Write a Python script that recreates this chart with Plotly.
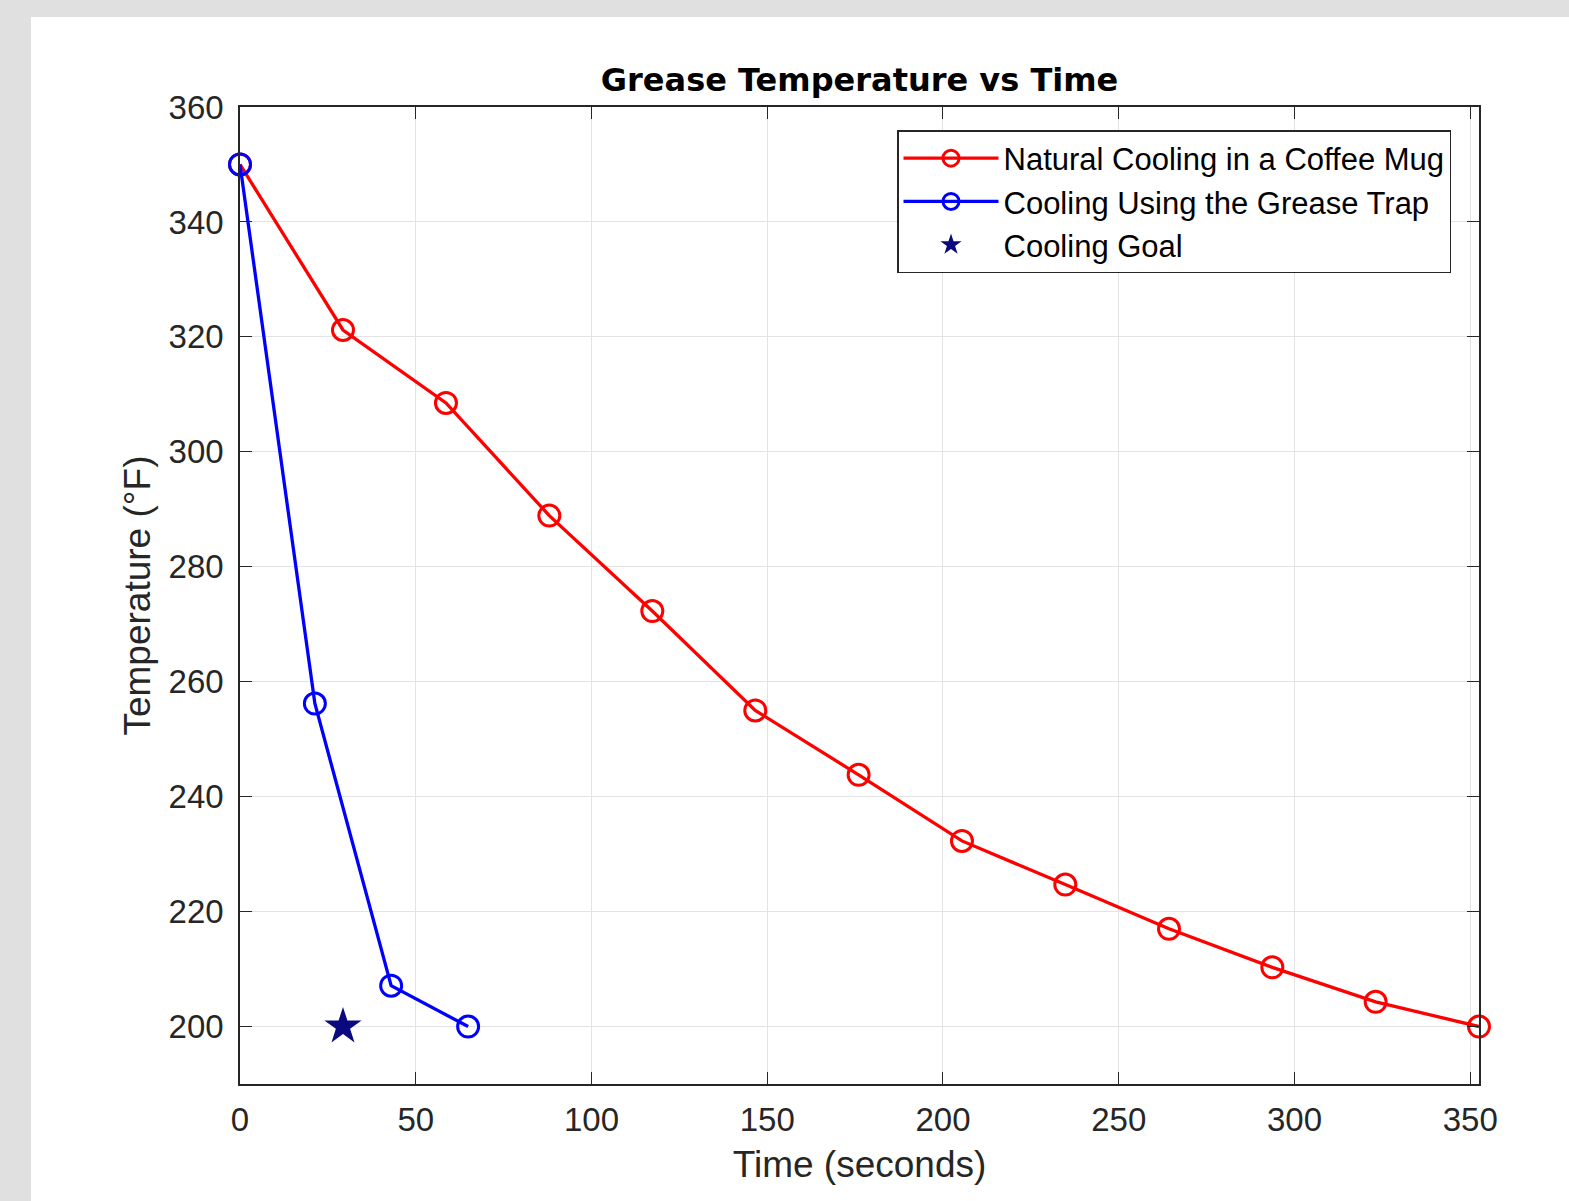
import plotly.graph_objects as go

natural_t = [0, 29.3, 58.6, 88.0, 117.3, 146.6, 176.0, 205.4, 234.8, 264.3, 293.7, 323.1, 352.5]
natural_T = [350, 321.2, 308.5, 288.9, 272.3, 255.0, 243.8, 232.3, 224.7, 217.0, 210.3, 204.3, 200]
trap_t = [0, 21.3, 43.0, 64.9]
trap_T = [350, 256.2, 207.1, 200]
goal_t = [29.3]
goal_T = [200]

FONT = "Liberation Sans, Arial, Helvetica, sans-serif"

fig = go.Figure()
fig.add_trace(go.Scatter(
    x=natural_t, y=natural_T, mode="lines+markers", name="Natural Cooling in a Coffee Mug",
    line=dict(color="#ff0000", width=3.3),
    marker=dict(symbol="circle-open", size=21, color="#ff0000", line=dict(width=3, color="#ff0000")),
    cliponaxis=False))
fig.add_trace(go.Scatter(
    x=trap_t, y=trap_T, mode="lines+markers", name="Cooling Using the Grease Trap",
    line=dict(color="#0000ff", width=3.3),
    marker=dict(symbol="circle-open", size=21, color="#0000ff", line=dict(width=3, color="#0000ff")),
    cliponaxis=False))
fig.add_trace(go.Scatter(
    x=goal_t, y=goal_T, mode="markers", name="Cooling Goal",
    marker=dict(symbol="star", size=28, color="#0a0a80", line=dict(width=0)),
    cliponaxis=False))

L, R, T, B = 240, 1479, 107, 1084
W, H = 1569, 1201
pw, ph = R - L, B - T

fig.add_shape(type="rect", xref="paper", yref="paper",
              x0=(31 - L) / pw, x1=(W - L) / pw + 0.01,
              y0=(B - H) / ph - 0.01, y1=(B - 17) / ph,
              fillcolor="white", line=dict(width=0), layer="below")

axis_common = dict(
    showline=True, linecolor="#262626", linewidth=1.5, mirror="ticks",
    ticks="inside", ticklen=12, tickwidth=1.2, tickcolor="#262626",
    showgrid=True, gridcolor="#e3e3e3", gridwidth=1, zeroline=False,
    tickfont=dict(family=FONT, size=33, color="#262626"),
)

fig.update_layout(
    width=W, height=H,
    margin=dict(l=L, r=W - R, t=T, b=H - B),
    paper_bgcolor="#e0e0e0", plot_bgcolor="white",
    title=dict(text="<b>Grease Temperature vs Time</b>", x=(L + R) / 2 / W, xanchor="center",
               y=1 - 80 / H, yanchor="middle",
               font=dict(family="DejaVu Sans, sans-serif", size=32, color="black")),
    xaxis=dict(range=[0, 352.5], tickvals=[0, 50, 100, 150, 200, 250, 300, 350],
               ticklabelstandoff=6,
               title=dict(text="Time (seconds)", font=dict(family=FONT, size=37, color="#262626"), standoff=14),
               **axis_common),
    yaxis=dict(range=[190, 360], tickvals=[200, 220, 240, 260, 280, 300, 320, 340, 360],
               ticklabelstandoff=8,
               title=dict(text="Temperature (°F)", font=dict(family=FONT, size=37, color="#262626"), standoff=7),
               **axis_common),
    legend=dict(x=(897 - L) / pw, y=(B - 130) / ph, xanchor="left", yanchor="top",
                bgcolor="white", bordercolor="#262626", borderwidth=1.5,
                font=dict(family=FONT, size=31, color="black"), itemwidth=95,
                tracegroupgap=0),
    showlegend=True,
)

fig.write_html("out.html")
